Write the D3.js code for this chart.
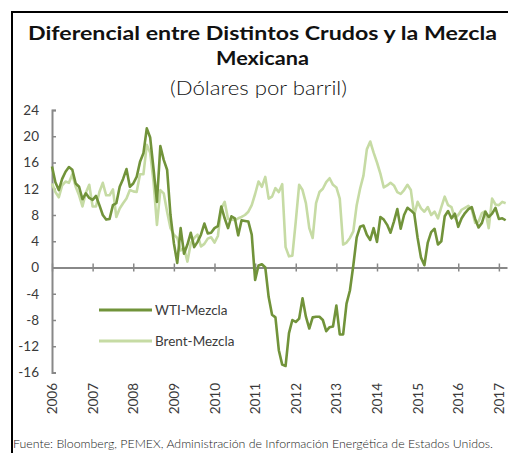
<!DOCTYPE html>
<html>
<head>
<meta charset="utf-8">
<script src="https://cdn.jsdelivr.net/npm/d3@7/dist/d3.min.js"></script>
<style>
  body { margin: 0; background: #fff; }
  svg { display: block; font-family: Lato, "Open Sans", sans-serif; }
</style>
</head>
<body>
<div id="chart"></div>
<script>
// serie mensual, ene-2006 a mar-2017
var yearLabels = ["2006", "2007", "2008", "2009", "2010", "2011", "2012", "2013", "2014", "2015", "2016", "2017"];
var yTicks = [24, 20, 16, 12, 8, 4, 0, -4, -8, -12, -16];
var seriesNames = ["WTI-Mezcla", "Brent-Mezcla"];

var wti = [
  15.4, 13.0, 11.8, 13.5, 14.6, 15.3, 14.9, 12.8, 12.3, 10.4, 11.3, 10.6,
  10.3, 10.9, 9.5, 8.0, 7.3, 7.4, 9.5, 9.8, 12.3, 13.5, 15.0, 12.3,
  12.8, 13.8, 16.1, 17.4, 21.2, 19.8, 15.0, 10.0, 18.5, 16.4, 14.9, 8.0,
  3.7, 0.7, 6.0, 2.1, 3.5, 5.3, 3.1, 3.9, 5.0, 6.7, 5.2, 5.3,
  6.0, 6.3, 9.3, 7.5, 6.0, 7.8, 7.5, 4.9, 7.2, 7.1, 7.0, 5.0,
  -1.9, 0.3, 0.5, 0.0, -4.5, -7.2, -7.6, -12.6, -14.8, -15.0, -10.0, -8.0,
  -8.3, -7.8, -4.7, -7.5, -9.3, -7.6, -7.5, -7.5, -8.0, -9.7, -9.1, -9.0,
  -5.8, -10.2, -10.2, -5.5, -3.5, 0.3, 4.6, 6.2, 6.4, 5.0, 4.2, 6.0,
  3.9, 7.7, 7.3, 6.5, 5.3, 7.0, 8.9, 5.9, 8.0, 9.1, 8.7, 8.2,
  4.5, 1.5, 0.35, 3.8, 5.4, 5.9, 3.5, 4.0, 7.8, 8.6, 7.5, 8.2,
  6.2, 7.5, 8.3, 8.9, 9.2, 7.4, 6.1, 6.8, 8.5, 7.7, 8.2, 9.1,
  7.4, 7.5, 7.2
];

var brent = [
  12.8, 11.5, 10.7, 12.5, 13.1, 12.9, 14.2, 12.3, 11.0, 9.3, 11.4, 12.6,
  9.3, 9.3, 11.5, 12.9, 11.0, 11.0, 11.9, 7.7, 9.0, 9.8, 10.5, 11.8,
  11.6, 11.5, 14.2, 14.2, 18.7, 17.5, 13.0, 6.5, 11.8, 11.3, 8.5, 6.0,
  5.0, 4.5, 2.6, 3.0, 0.9, 3.7, 4.5, 5.0, 3.2, 3.6, 4.4, 4.6,
  3.8, 4.8, 9.0, 10.0, 7.4, 7.3, 7.2, 7.5, 7.7, 8.0, 8.5, 9.5,
  11.2, 13.1, 12.3, 13.8, 10.5, 10.8, 12.1, 11.5, 12.7, 3.1, 1.7, 1.8,
  7.0, 12.6, 11.8, 9.8, 6.0, 4.5, 9.8, 11.5, 12.0, 13.0, 13.6, 12.6,
  12.2, 10.5, 3.5, 3.8, 4.5, 5.5, 9.5, 12.0, 14.0, 18.0, 19.2, 17.5,
  16.0, 14.3, 12.2, 12.5, 12.9, 12.5, 11.5, 11.2, 11.8, 12.6, 11.8, 8.0,
  10.0, 9.0, 8.5, 9.2, 8.0, 8.5, 7.5, 9.2, 10.8, 9.5, 9.2, 7.5,
  8.0, 8.8, 9.1, 9.4, 8.8, 6.8, 7.0, 8.3, 8.6, 6.0, 10.5, 9.6,
  9.5, 10.0, 9.8
];

var W = 508, H = 453;
var colors = ["#71933a", "#c6dba4"];
var axisColor = "#888888";
var textColor = "#3a3a3a";

var svg = d3.select("#chart").append("svg")
    .attr("width", W).attr("height", H);

// marco
svg.append("line").attr("x1", 12).attr("x2", 12).attr("y1", 11).attr("y2", H)
    .attr("stroke", "#000").attr("stroke-width", 2);
svg.append("line").attr("x1", 11).attr("x2", W).attr("y1", 12).attr("y2", 12)
    .attr("stroke", "#000").attr("stroke-width", 2);

// estira el texto al ancho 'w' sin cambiar la letra
function fitText(sel, w) {
    sel.attr("textLength", w).attr("lengthAdjust", "spacingAndGlyphs");
}

// titulo
var t1 = svg.append("text").attr("x", 262.5).attr("y", 40)
    .attr("text-anchor", "middle").style("font-size", "19px").style("font-weight", "bold")
    .attr("fill", "#111").text("Diferencial entre Distintos Crudos y la Mezcla");
fitText(t1, 469);
var t2 = svg.append("text").attr("x", 262.5).attr("y", 65)
    .attr("text-anchor", "middle").style("font-size", "19px").style("font-weight", "bold")
    .attr("fill", "#111").text("Mexicana");
fitText(t2, 93);
var t3 = svg.append("text").attr("x", 258.5).attr("y", 95)
    .attr("text-anchor", "middle").style("font-size", "19px").style("font-weight", "300")
    .attr("fill", "#111").text("(Dólares por barril)");
fitText(t3, 177);

// escalas
var x = d3.scaleLinear().domain([0, 134.4]).range([52, 507]);
var y = d3.scaleLinear().domain([-16, 24]).range([372.5, 110]);

// eje y
var yAxis = svg.append("g").attr("transform", "translate(52,0)")
    .call(d3.axisRight(y).tickValues(yTicks).tickSize(4).tickFormat(""));
yAxis.select(".domain").attr("stroke", axisColor).attr("stroke-width", 2);
yAxis.selectAll(".tick line").attr("stroke", axisColor).attr("stroke-width", 1.5);
svg.append("g").selectAll("text").data(yTicks).join("text")
    .attr("x", 39).attr("y", d => y(d))
    .attr("dy", "0.36em").attr("text-anchor", "end")
    .style("font-size", "13.5px").attr("fill", textColor)
    .text(d => String(d));

// eje x en cero
var xTickVals = yearLabels.map((d, i) => i * 12);
var xAxis = svg.append("g").attr("transform", "translate(0," + y(0) + ")")
    .call(d3.axisBottom(x).tickValues(xTickVals).tickSize(0).tickFormat(""));
xAxis.select(".domain").attr("stroke", axisColor).attr("stroke-width", 2);
xAxis.selectAll(".tick").append("line")
    .attr("y1", -4).attr("y2", 4).attr("stroke", axisColor).attr("stroke-width", 1.5);

// etiquetas de años (giradas)
svg.append("g").selectAll("text").data(yearLabels).join("text")
    .attr("transform", (d, i) => "translate(" + (x(i * 12) + 5) + ",383) rotate(-90)")
    .attr("text-anchor", "end")
    .style("font-size", "13.5px").attr("fill", textColor)
    .text(d => d);

// lineas
var line = d3.line().x((d, i) => x(i)).y(d => y(d));
svg.append("path").datum(brent).attr("d", line)
    .attr("fill", "none").attr("stroke", colors[1]).attr("stroke-width", 2.6)
    .attr("stroke-linejoin", "round");
svg.append("path").datum(wti).attr("d", line)
    .attr("fill", "none").attr("stroke", colors[0]).attr("stroke-width", 2.6)
    .attr("stroke-linejoin", "round");

// leyenda
var legend = svg.append("g").selectAll("g").data(seriesNames).join("g")
    .attr("transform", (d, i) => "translate(99," + (310 + i * 31) + ")");
legend.append("line").attr("x1", 0).attr("x2", 53)
    .attr("stroke", (d, i) => colors[i]).attr("stroke-width", 3);
legend.append("text").attr("x", 56).attr("dy", "0.36em")
    .style("font-size", "13.5px").attr("fill", textColor).text(d => d);

// fuente
var src = svg.append("text").attr("x", 13).attr("y", 448)
    .style("font-size", "12px").style("font-weight", "300").attr("fill", "#222")
    .text("Fuente: Bloomberg, PEMEX, Administración de Información Energética de Estados Unidos.");
fitText(src, 480);
</script>
</body>
</html>
